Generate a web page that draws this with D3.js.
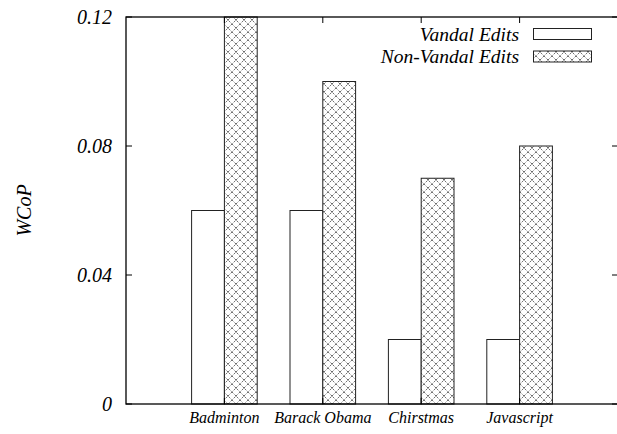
<!DOCTYPE html>
<html>
<head>
<meta charset="utf-8">
<script src="https://cdn.jsdelivr.net/npm/d3@7"></script>
<style>
  body { margin: 0; background: #fff; }
</style>
</head>
<body>
<div id="chart"></div>
<script>
const width = 617,
  height = 434,
  margin = { top: 17, bottom: 30, left: 126, right: -1 }

// data
const categories = ["Badminton", "Barack Obama", "Chirstmas", "Javascript"]
const vandal = [0.06, 0.06, 0.02, 0.02]
const nonVandal = [0.12, 0.10, 0.07, 0.08]
const seriesNames = ["Vandal Edits", "Non-Vandal Edits"]
const yTicks = [0, 0.04, 0.08, 0.12]
const yTickLabels = ["0", "0.04", "0.08", "0.12"]

const serif = "Liberation Serif"

const svg = d3.select("#chart")
  .append("svg")
  .attr("width", width)
  .attr("height", height)
  .attr("font-family", serif)
  .attr("font-style", "italic")

// crosshatch fill like gnuplot pattern
const defs = svg.append("defs")
const pat = defs.append("pattern")
  .attr("id", "hatch")
  .attr("patternUnits", "userSpaceOnUse")
  .attr("width", 8)
  .attr("height", 8)
pat.append("rect").attr("width", 8).attr("height", 8).attr("fill", "#fff")
pat.append("path")
  .attr("d", "M0,0L8,8M8,0L0,8")
  .attr("stroke", "#333")
  .attr("stroke-width", 0.7)
  .attr("stroke-dasharray", "2,1.5")
pat.append("circle").attr("cx", 4).attr("cy", 4).attr("r", 0.6).attr("fill", "#000")

const x = d3.scaleLinear()
  .domain([-1, 4])
  .range([margin.left, width - margin.right])

const y = d3.scaleLinear()
  .domain([0, 0.12])
  .range([height - margin.bottom, margin.top])

const boxW = 1 / 3
const x0 = x.range()[0], x1 = x.range()[1]
const y0 = y.range()[0], y1 = y.range()[1]

// bars
const g = svg.append("g").attr("class", "bars")

g.selectAll(".vandal")
  .data(vandal)
  .join("rect")
  .attr("class", "vandal")
  .attr("x", (d, i) => x(i - boxW))
  .attr("width", (d, i) => x(i) - x(i - boxW))
  .attr("y", d => y(d))
  .attr("height", d => y(0) - y(d))
  .attr("fill", "#fff")
  .attr("stroke", "#222")
  .attr("stroke-width", 1)

g.selectAll(".nonvandal")
  .data(nonVandal)
  .join("rect")
  .attr("class", "nonvandal")
  .attr("x", (d, i) => x(i))
  .attr("width", (d, i) => x(i + boxW) - x(i))
  .attr("y", d => y(d))
  .attr("height", d => y(0) - y(d))
  .attr("fill", "url(#hatch)")
  .attr("stroke", "#222")
  .attr("stroke-width", 1)

// frame
svg.append("rect")
  .attr("x", x0)
  .attr("y", y1)
  .attr("width", x1 - x0)
  .attr("height", y0 - y1)
  .attr("fill", "none")
  .attr("stroke", "#000")
  .attr("stroke-width", 1.3)

// y ticks both sides
yTicks.forEach((t, i) => {
  svg.append("line")
    .attr("x1", x0).attr("x2", x0 + 6)
    .attr("y1", y(t)).attr("y2", y(t))
    .attr("stroke", "#000")
  svg.append("line")
    .attr("x1", x1).attr("x2", x1 - 6)
    .attr("y1", y(t)).attr("y2", y(t))
    .attr("stroke", "#000")
  svg.append("text")
    .attr("x", x0 - 14)
    .attr("y", y(t))
    .attr("dy", "0.36em")
    .attr("text-anchor", "end")
    .attr("font-size", 20)
    .text(yTickLabels[i])
})

// x ticks top and bottom
categories.forEach((c, i) => {
  svg.append("line")
    .attr("x1", x(i)).attr("x2", x(i))
    .attr("y1", y1).attr("y2", y1 + 6)
    .attr("stroke", "#000")
  svg.append("line")
    .attr("x1", x(i)).attr("x2", x(i))
    .attr("y1", y0).attr("y2", y0 - 6)
    .attr("stroke", "#000")
  svg.append("text")
    .attr("x", x(i))
    .attr("y", y0 + 19)
    .attr("text-anchor", "middle")
    .attr("font-size", 16)
    .text(c)
})

// y label
svg.append("text")
  .attr("transform", `translate(31, ${(y0 + y1) / 2}) rotate(-90)`)
  .attr("text-anchor", "middle")
  .attr("font-size", 20)
  .text("WCoP")

// legend
const legend = svg.append("g").attr("class", "legend")
seriesNames.forEach((s, i) => {
  const ly = 34 + i * 22.5
  legend.append("text")
    .attr("x", 519)
    .attr("y", ly)
    .attr("dy", "0.35em")
    .attr("text-anchor", "end")
    .attr("font-size", 19.5)
    .text(s)
  legend.append("rect")
    .attr("x", 533.5)
    .attr("y", ly - 5.5)
    .attr("width", 58)
    .attr("height", 11)
    .attr("fill", i === 0 ? "#fff" : "url(#hatch)")
    .attr("stroke", "#222")
    .attr("stroke-width", 1)
})
</script>
</body>
</html>
